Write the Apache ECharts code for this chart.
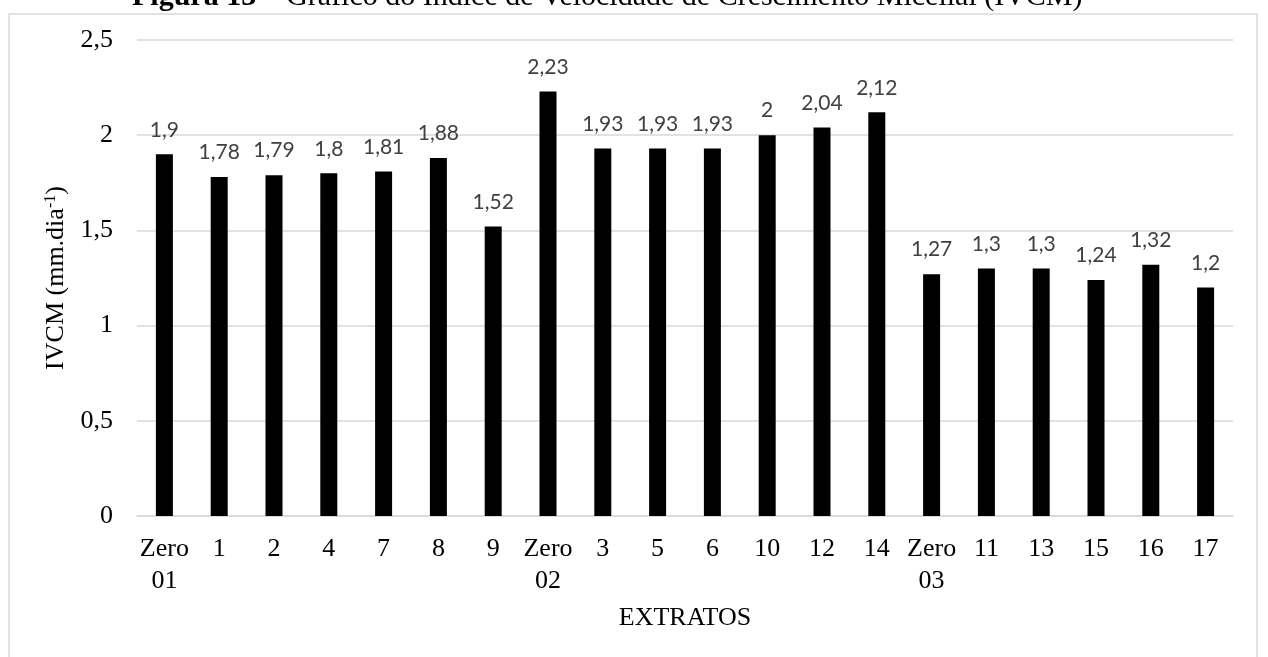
<!DOCTYPE html>
<html>
<head>
<meta charset="utf-8">
<script src="https://cdn.jsdelivr.net/npm/echarts@6/dist/echarts.min.js"></script>
<style>
  html, body { margin: 0; padding: 0; background: #ffffff; }
  #chart { width: 1268px; height: 657px; }
</style>
</head>
<body>
<div id="chart"></div>
<script>
// Extracts tested and their mycelial growth speed index (mm/day)
const categories = ['Zero\n01', '1', '2', '4', '7', '8', '9', 'Zero\n02', '3', '5', '6', '10', '12', '14', 'Zero\n03', '11', '13', '15', '16', '17'];
const ivcm = [1.9, 1.78, 1.79, 1.8, 1.81, 1.88, 1.52, 2.23, 1.93, 1.93, 1.93, 2, 2.04, 2.12, 1.27, 1.3, 1.3, 1.24, 1.32, 1.2];
const yTicks = [0, 0.5, 1, 1.5, 2, 2.5];

const comma = v => String(v).replace('.', ',');
const serif = '"Liberation Serif", "Times New Roman", serif';

const chart = echarts.init(document.getElementById('chart'), null, { renderer: 'canvas' });

chart.setOption({
  animation: false,
  backgroundColor: '#ffffff',
  graphic: [
    {
      type: 'rect',
      shape: { x: 9, y: 14, width: 1248, height: 700 },
      style: { fill: 'none', stroke: '#d9d9d9', lineWidth: 1.5 },
      silent: true
    },
    {
      type: 'text',
      left: 132,
      top: -18,
      style: {
        text: '{b|Figura 13} – Gráfico do Índice de Velocidade de Crescimento Micelial (IVCM)',
        font: '30px ' + serif,
        fill: '#000000',
        rich: {
          b: { fontFamily: serif, fontSize: 30, fontWeight: 'bold', fill: '#000000' }
        }
      }
    }
  ],
  grid: { left: 137, right: 35, top: 40, bottom: 141, containLabel: false },
  xAxis: {
    type: 'category',
    data: categories,
    axisLine: { show: true, lineStyle: { color: '#d9d9d9', width: 1.5 } },
    axisTick: { show: false },
    axisLabel: {
      interval: 0,
      margin: 17,
      fontFamily: serif,
      fontSize: 26,
      lineHeight: 32,
      color: '#000000'
    },
    name: 'EXTRATOS',
    nameLocation: 'middle',
    nameGap: 89,
    nameTextStyle: { fontFamily: serif, fontSize: 26, color: '#000000' }
  },
  yAxis: {
    type: 'value',
    min: yTicks[0],
    max: yTicks[yTicks.length - 1],
    interval: 0.5,
    axisLine: { show: false },
    axisTick: { show: false },
    splitLine: { lineStyle: { color: '#d9d9d9', width: 1.5 } },
    axisLabel: {
      margin: 24,
      fontFamily: serif,
      fontSize: 26,
      color: '#000000',
      formatter: comma
    },
    name: 'IVCM (mm.dia{sup|-1})',
    nameLocation: 'middle',
    nameGap: 60,
    nameTextStyle: {
      fontFamily: serif,
      fontSize: 26,
      color: '#000000',
      rich: {
        sup: { fontFamily: serif, fontSize: 16, verticalAlign: 'top', padding: [0, 0, 12, 0], color: '#000000' }
      }
    }
  },
  series: [{
    type: 'bar',
    data: ivcm,
    barWidth: 17,
    itemStyle: { color: '#000000' },
    label: {
      show: true,
      position: 'top',
      distance: 14,
      fontFamily: 'Lato, "Open Sans", sans-serif',
      fontSize: 21,
      color: '#404040',
      formatter: p => comma(p.value)
    }
  }]
});
</script>
</body>
</html>
